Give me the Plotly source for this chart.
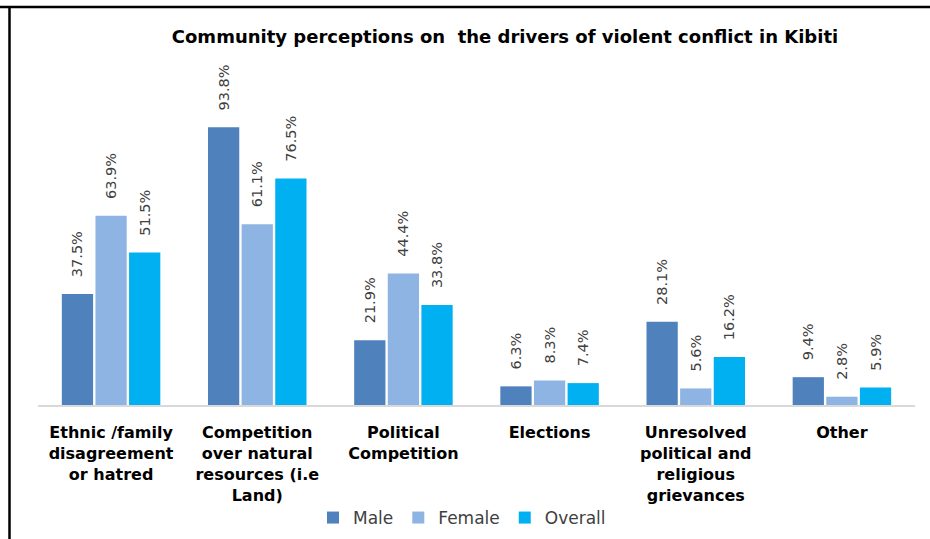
import plotly.graph_objects as go

# Survey results (% of respondents)
categories = [
    "Ethnic /family<br>disagreement<br>or hatred",
    "Competition<br>over natural<br>resources (i.e<br>Land)",
    "Political<br>Competition",
    "Elections",
    "Unresolved<br>political and<br>religious<br>grievances",
    "Other",
]
male = [37.5, 93.8, 21.9, 6.3, 28.1, 9.4]
female = [63.9, 61.1, 44.4, 8.3, 5.6, 2.8]
overall = [51.5, 76.5, 33.8, 7.4, 16.2, 5.9]

series = [
    ("Male", male, "#4F81BD"),
    ("Female", female, "#8EB4E3"),
    ("Overall", overall, "#00B0F0"),
]

FONT = "DejaVu Sans"
W, H = 930, 539
L, R, T, B = 38, 15, 109, 134
pw, ph = W - L - R, H - T - B


def px_x(x):
    return (x - L) / pw


def px_y(y):
    return (H - B - y) / ph


fig = go.Figure()
pad = "\u00a0" * 3
for name, vals, color in series:
    fig.add_trace(go.Bar(
        name=name,
        x=categories,
        y=vals,
        marker=dict(color=color, line=dict(width=0)),
        text=[f"{pad}{v:.1f}%" for v in vals],
        textposition="outside",
        textangle=-90,
        constraintext="none",
        textfont=dict(family=FONT, size=14.5, color="#404040"),
        cliponaxis=False,
        hoverinfo="skip",
    ))

fig.update_layout(
    template="none",
    width=W,
    height=H,
    margin=dict(l=L, r=R, t=T, b=B, autoexpand=False),
    paper_bgcolor="white",
    plot_bgcolor="white",
    barmode="group",
    bargap=0.31,
    bargroupgap=0.07,
    title=dict(
        text="<b>Community perceptions on  the drivers of violent conflict in Kibiti</b>",
        x=px_x(505), xref="paper", xanchor="center",
        y=1 - 37 / H, yanchor="middle",
        font=dict(family=FONT, size=18, color="black"),
    ),
    xaxis=dict(
        showline=True, linecolor="#D9D9D9", linewidth=2,
        showgrid=False, ticks="", automargin=False,
        ticklabelstandoff=12,
        tickfont=dict(family=FONT, size=16, color="black"),
        tickprefix="<b>", ticksuffix="</b>",
    ),
    yaxis=dict(
        range=[0, 100], visible=False, showgrid=False, automargin=False,
    ),
    legend=dict(
        orientation="h",
        x=px_x(462), xanchor="center",
        y=px_y(518), yanchor="middle",
        font=dict(family=FONT, size=17, color="#404040"),
        itemwidth=30,
        traceorder="normal",
        bgcolor="rgba(0,0,0,0)",
    ),
    showlegend=True,
    shapes=[
        dict(type="line", xref="paper", yref="paper",
             x0=px_x(0), x1=px_x(W), y0=px_y(7), y1=px_y(7),
             line=dict(color="black", width=2.5)),
        dict(type="line", xref="paper", yref="paper",
             x0=px_x(9.5), x1=px_x(9.5), y0=px_y(7), y1=px_y(H),
             line=dict(color="black", width=2.5)),
    ],
)

fig.write_html("out.html")
